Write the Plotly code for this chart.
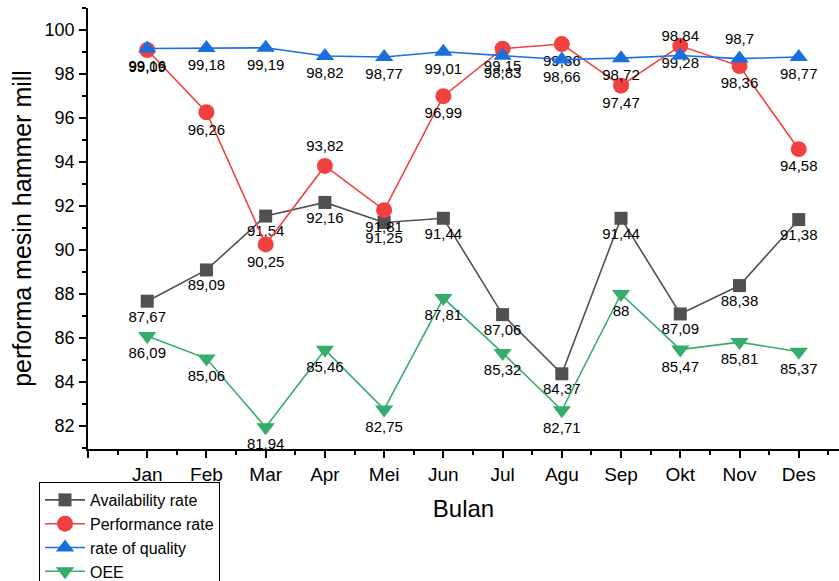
import plotly.graph_objects as go

months = ["Jan", "Feb", "Mar", "Apr", "Mei", "Jun", "Jul", "Agu", "Sep", "Okt", "Nov", "Des"]
availability = [87.67, 89.09, 91.54, 92.16, 91.25, 91.44, 87.06, 84.37, 91.44, 87.09, 88.38, 91.38]
performance = [99.09, 96.26, 90.25, 93.82, 91.81, 96.99, 99.15, 99.36, 97.47, 99.28, 98.36, 94.58]
quality = [99.16, 99.18, 99.19, 98.82, 98.77, 99.01, 98.83, 98.66, 98.72, 98.84, 98.7, 98.77]
oee = [86.09, 85.06, 81.94, 85.46, 82.75, 87.81, 85.32, 82.71, 88, 85.47, 85.81, 85.37]

x = list(range(1, len(months) + 1))
FONT = "Arial, Liberation Sans, sans-serif"


def lab(vals):
    return [f"{v:g}".replace(".", ",") for v in vals]


perf_pos = ["bottom center"] * 12
perf_pos[3] = "top center"
qual_pos = ["bottom center"] * 12
qual_pos[9] = "top center"
qual_pos[10] = "top center"

series = [
    ("Availability rate", availability, "#515151", "square", 13, ["bottom center"] * 12),
    ("Performance rate", performance, "#F14040", "circle", 16, perf_pos),
    ("rate of quality", quality, "#1A6FDF", "triangle-up", 16, qual_pos),
    ("OEE", oee, "#37AD6B", "triangle-down", 16, ["bottom center"] * 12),
]

fig = go.Figure()
for name, vals, col, sym, sz, pos in series:
    fig.add_trace(go.Scatter(
        x=x, y=vals, name=name, mode="lines+markers+text",
        line=dict(color=col, width=1.6),
        marker=dict(symbol=sym, size=sz, color=col, line=dict(width=0)),
        text=lab(vals), textposition=pos,
        textfont=dict(family=FONT, size=15, color="#000"),
        cliponaxis=False,
    ))

L, T, PW, PH = 88, 8, 751, 441

fig.update_layout(
    width=839, height=581,
    paper_bgcolor="white", plot_bgcolor="white",
    margin=dict(l=L, r=0, t=T, b=581 - T - PH, autoexpand=False),
    font=dict(family=FONT, color="#000"),
    showlegend=True,
    legend=dict(
        x=(39 - L) / PW, xanchor="left", xref="paper",
        y=-(482 - T - PH) / PH, yanchor="top",
        font=dict(family=FONT, size=16, color="#000"),
        bordercolor="#000", borderwidth=1, bgcolor="white",
        tracegroupgap=0, itemwidth=40,
    ),
    xaxis=dict(
        automargin=False,
        range=[0, 12.68], tickmode="array", tickvals=list(range(0, 13)),
        ticktext=[""] + months, showgrid=False, zeroline=False,
        showline=True, linecolor="#000", linewidth=1.5,
        ticks="outside", ticklen=7, tickwidth=1.5, tickcolor="#000",
        ticklabelstandoff=0,
        tickfont=dict(family=FONT, size=19, color="#000"),
        minor=dict(tickmode="linear", tick0=0.5, dtick=1, ticks="outside", ticklen=4,
                   tickwidth=1.5, tickcolor="#000", showgrid=False),
        title=dict(text="Bulan", font=dict(family=FONT, size=24, color="#000"), standoff=17),
    ),
    yaxis=dict(
        automargin=False,
        range=[80.95, 101.0], tickmode="linear", tick0=82, dtick=2,
        showgrid=False, zeroline=False,
        showline=True, linecolor="#000", linewidth=1.5,
        ticks="outside", ticklen=7, tickwidth=1.5, tickcolor="#000",
        ticklabelstandoff=1,
        tickfont=dict(family=FONT, size=18, color="#000"),
        minor=dict(tickmode="linear", tick0=81, dtick=1, ticks="outside", ticklen=4,
                   tickwidth=1.5, tickcolor="#000", showgrid=False),
        title=dict(text="performa mesin hammer mill", font=dict(family=FONT, size=25, color="#000"), standoff=6),
    ),
)

fig.write_html("out.html", config={"displayModeBar": False},
               post_script="document.body.style.margin='0';document.body.style.overflow='hidden';")
